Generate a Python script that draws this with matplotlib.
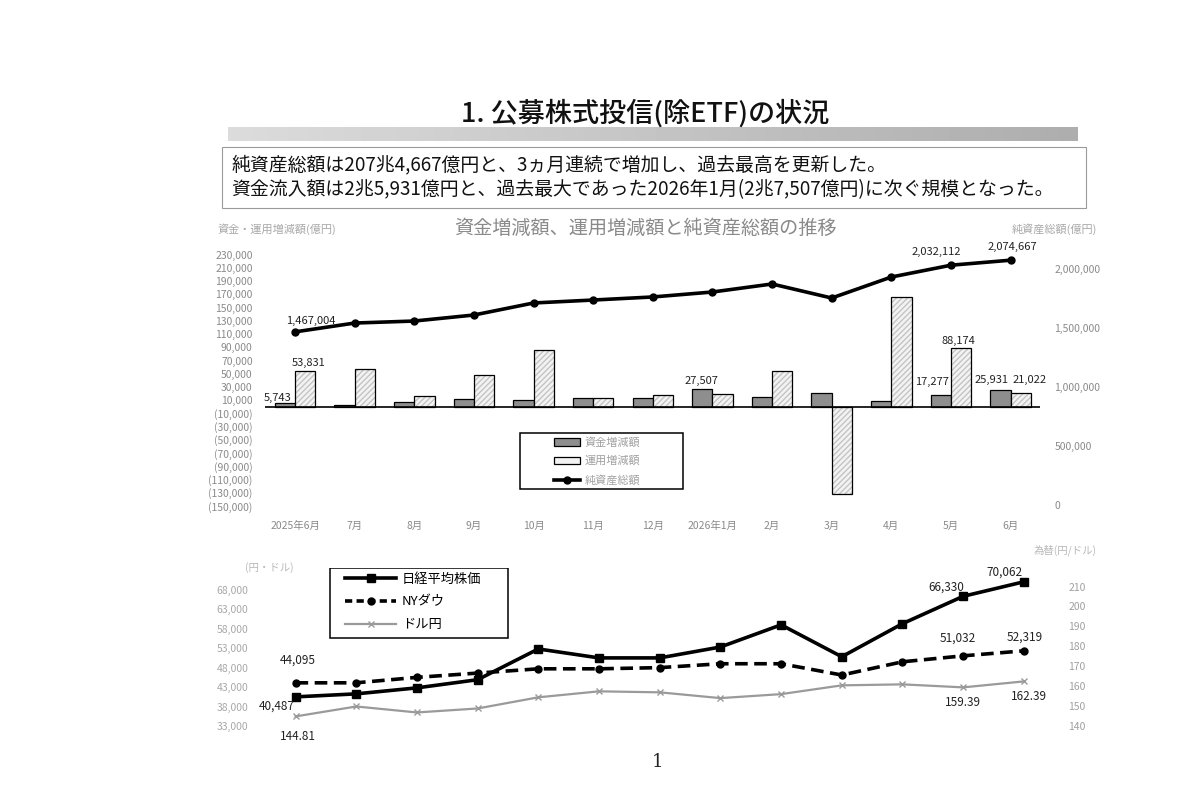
import numpy as np
import matplotlib
matplotlib.use('Agg')
import matplotlib.pyplot as plt
from matplotlib.lines import Line2D
from matplotlib.patches import Patch, Rectangle
from matplotlib.ticker import FuncFormatter

plt.rcParams['font.family'] = ['Noto Sans CJK JP', 'DejaVu Sans']

# ---- data ----
months = ['2025年6月', '7月', '8月', '9月', '10月', '11月', '12月',
          '2026年1月', '2月', '3月', '4月', '5月', '6月']
fund_flow = [5743, 2000, 7500, 12000, 11000, 13500, 13500,
             27507, 15000, 21000, 9000, 17277, 25931]
invest_chg = [53831, 57600, 16700, 48500, 86000, 13000, 18000,
              19500, 54000, -132000, 166000, 88174, 21022]
net_assets = [1467004, 1542000, 1559000, 1610000, 1712000, 1737000, 1763000,
              1805000, 1873000, 1754000, 1932000, 2032112, 2074667]

nikkei = [40487, 41260, 42800, 44900, 52800, 50500, 50500,
          53300, 59000, 50800, 59300, 66330, 70062]
nydow = [44095, 44100, 45500, 46600, 47700, 47700, 48000,
         49000, 49000, 46100, 49500, 51032, 52319]
usdjpy = [144.81, 149.8, 146.8, 148.8, 154.4, 157.4, 156.9,
          154.0, 156.0, 160.4, 160.9, 159.39, 162.39]

x = np.arange(len(months))

fig = plt.figure(figsize=(12, 8), dpi=100)
fig.patch.set_facecolor('white')

# ---- page header ----
fig.text(0.5375, 0.858, '1. 公募株式投信(除ETF)の状況', ha='center', va='center',
         fontsize=19.5, fontweight='medium', color='#111111')
grad = np.linspace(0.86, 0.68, 256).reshape(1, -1)
band = fig.add_axes([0.19, 0.824, 0.708, 0.0175])
band.imshow(grad, aspect='auto', cmap='gray', vmin=0, vmax=1)
band.axis('off')
fig.patches.append(Rectangle((0.185, 0.74), 0.72, 0.076, transform=fig.transFigure,
                             fill=False, edgecolor='#9a9a9a', linewidth=0.8))
fig.text(0.193, 0.794, '純資産総額は207兆4,667億円と、3ヵ月連続で増加し、過去最高を更新した。',
         ha='left', va='center', fontsize=13.6, color='#111111')
fig.text(0.193, 0.763, '資金流入額は2兆5,931億円と、過去最大であった2026年1月(2兆7,507億円)に次ぐ規模となった。',
         ha='left', va='center', fontsize=13.6, color='#111111')

# ---- upper chart ----
ax1 = fig.add_axes([0.221, 0.3625, 0.646, 0.325])
ax1r = ax1.twinx()
w = 0.34
ax1.bar(x - w / 2, fund_flow, w, color='#8e8e8e', edgecolor='black', linewidth=0.9)
ax1.bar(x + w / 2, invest_chg, w, color='#f3f3f3', edgecolor='#c4c4c4', hatch='//////', linewidth=0)
ax1.bar(x + w / 2, invest_chg, w, fill=False, edgecolor='black', linewidth=0.9)
ax1.axhline(0, color='black', linewidth=1.2)
ax1.set_xlim(-0.5, 12.5)
ax1.set_ylim(-156000, 237000)
ax1.set_yticks(np.arange(-150000, 230001, 20000))
ax1.yaxis.set_major_formatter(FuncFormatter(
    lambda v, p: f'{int(v):,}' if v >= 0 else f'({int(-v):,})'))
ax1.set_xticks(x)
ax1.set_xticklabels(months)
ax1.tick_params(axis='both', length=0, labelsize=7.5, colors='#8a8a8a')
ax1.tick_params(axis='y', pad=9)
ax1.tick_params(axis='x', pad=8)

ax1r.plot(x, net_assets, color='black', linewidth=2.6, marker='o', markersize=5)
ax1r.set_ylim(-42400, 2161000)
ax1r.set_yticks([0, 500000, 1000000, 1500000, 2000000])
ax1r.yaxis.set_major_formatter(FuncFormatter(lambda v, p: f'{int(v):,}'))
ax1r.tick_params(axis='y', length=0, labelsize=7.5, colors='#8a8a8a', pad=10)
for a in (ax1, ax1r):
    for s in a.spines.values():
        s.set_visible(False)

lab = dict(textcoords='offset pixels', ha='center', va='center', fontsize=8, color='#222222')
ax1r.annotate('1,467,004', (0, net_assets[0]), xytext=(16, 11), **lab)
ax1r.annotate('2,032,112', (11, net_assets[11]), xytext=(-15, 13), **lab)
ax1r.annotate('2,074,667', (12, net_assets[12]), xytext=(2, 13), **lab)
ax1.annotate('5,743', (0 - w / 2, fund_flow[0]), xytext=(-7, 5), **lab)
ax1.annotate('53,831', (0 + w / 2, invest_chg[0]), xytext=(3, 8), **lab)
ax1.annotate('27,507', (7 - w / 2, fund_flow[7]), xytext=(-1, 8), **lab)
ax1.annotate('17,277', (11 - w / 2, fund_flow[11]), xytext=(-9, 13), **lab)
ax1.annotate('88,174', (11 + w / 2, invest_chg[11]), xytext=(-3, 7), **lab)
ax1.annotate('25,931', (12 - w / 2, fund_flow[12]), xytext=(-9, 10), **lab)
ax1.annotate('21,022', (12 + w / 2, invest_chg[12]), xytext=(9, 13), **lab)

# legend: frameless entries plus a separate box, to get the wide frame of the original
ax1.add_patch(Rectangle((0.329, 0.081), 0.21, 0.215, transform=ax1.transAxes,
                        fill=False, edgecolor='black', linewidth=1.1, zorder=5))
h1 = [Patch(facecolor='#8e8e8e', edgecolor='black', linewidth=0.9),
      Patch(facecolor='#f3f3f3', edgecolor='black', linewidth=0.9),
      Line2D([], [], color='black', linewidth=2.6, marker='o', markersize=5)]
ax1.legend(h1, ['資金増減額', '運用増減額', '純資産総額'], loc='center left',
           bbox_to_anchor=(0.372, 0.188), fontsize=8, frameon=False,
           labelcolor='#a0a0a0', handlelength=2.4, handletextpad=0.4,
           borderpad=0, labelspacing=0.75, borderaxespad=0)

fig.text(0.5375, 0.715, '資金増減額、運用増減額と純資産総額の推移', ha='center', va='center',
         fontsize=13.8, color='#8a8a8a')
fig.text(0.181, 0.713, '資金・運用増減額(億円)', ha='left', va='center', fontsize=8, color='#a8a8a8')
fig.text(0.914, 0.713, '純資産総額(億円)', ha='right', va='center', fontsize=8, color='#a8a8a8')

# ---- lower chart ----
ax2 = fig.add_axes([0.221, 0.0775, 0.6575, 0.2125])
ax2r = ax2.twinx()
ax2.plot(x, nikkei, color='black', linewidth=2.6, marker='s', markersize=6)
ax2.plot(x, nydow, color='black', linewidth=2.6, linestyle=(0, (3.5, 1.8)), marker='o', markersize=5)
ax2r.plot(x, usdjpy, color='#9a9a9a', linewidth=1.6, marker='x', markersize=4)
ax2.set_xlim(-0.5, 12.5)
ax2.set_ylim(29916, 73606)
ax2.set_yticks(np.arange(33000, 68001, 5000))
ax2.yaxis.set_major_formatter(FuncFormatter(lambda v, p: f'{int(v):,}'))
ax2.set_xticks([])
ax2.tick_params(axis='y', length=0, labelsize=7.5, colors='#a8a8a8', pad=12)
ax2r.set_ylim(133.98, 219.3)
ax2r.set_yticks(np.arange(140, 211, 10))
ax2r.tick_params(axis='y', length=0, labelsize=7.5, colors='#a0a0a0', pad=10)
for a in (ax2, ax2r):
    for s in a.spines.values():
        s.set_visible(False)

lab2 = dict(textcoords='offset pixels', ha='center', va='center', fontsize=8.5, color='#222222')
ax2.annotate('44,095', (0, nydow[0]), xytext=(2, 23), **lab2)
ax2.annotate('40,487', (0, nikkei[0]), xytext=(-19, -9), **lab2)
ax2r.annotate('144.81', (0, usdjpy[0]), xytext=(2, -20), **lab2)
ax2.annotate('66,330', (11, nikkei[11]), xytext=(-17, 9), **lab2)
ax2.annotate('70,062', (12, nikkei[12]), xytext=(-19, 10), **lab2)
ax2.annotate('51,032', (11, nydow[11]), xytext=(-5, 18), **lab2)
ax2.annotate('52,319', (12, nydow[12]), xytext=(1, 14), **lab2)
ax2r.annotate('159.39', (11, usdjpy[11]), xytext=(0, -15), **lab2)
ax2r.annotate('162.39', (12, usdjpy[12]), xytext=(5, -15), **lab2)

ax2r.add_patch(Rectangle((0.082, 0.588), 0.226, 0.412, transform=ax2r.transAxes,
                         facecolor='white', edgecolor='black', linewidth=1.1, zorder=4))
h2 = [Line2D([], [], color='black', linewidth=2.6, marker='s', markersize=6),
      Line2D([], [], color='black', linewidth=2.6, linestyle=(0, (2, 1.2)), marker='o', markersize=5),
      Line2D([], [], color='#9a9a9a', linewidth=1.6, marker='x', markersize=4)]
leg2 = ax2r.legend(h2, ['日経平均株価', 'NYダウ', 'ドル円'], loc='center left',
                   bbox_to_anchor=(0.101, 0.8), fontsize=9.5, frameon=False,
                   handlelength=3.9, handletextpad=0.4, borderpad=0,
                   labelspacing=0.75, borderaxespad=0)
leg2.set_zorder(6)

fig.text(0.204, 0.29, '(円・ドル)', ha='left', va='center', fontsize=7.5, color='#b8b8b8')
fig.text(0.914, 0.312, '為替(円/ドル)', ha='right', va='center', fontsize=7.5, color='#b8b8b8')

fig.text(0.5475, 0.0475, '1', ha='center', va='center', fontsize=13,
         family=['DejaVu Serif'], color='#222222')

fig.savefig('out.png', dpi=100)
